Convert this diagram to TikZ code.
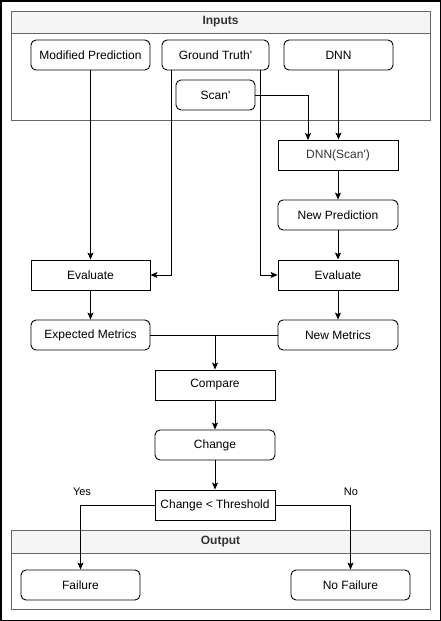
\documentclass[tikz,border=0pt]{standalone}
\usepackage{fontspec}
\setmainfont{Liberation Sans}
\usetikzlibrary{arrows.meta}
\usetikzlibrary{calc}
\definecolor{framegrey}{rgb}{0.4, 0.4, 0.4}
\definecolor{headgrey}{rgb}{0.96, 0.96, 0.96}
\definecolor{headtext}{rgb}{0.2, 0.2, 0.2}

\begin{document}
\begin{tikzpicture}[x=1pt, y=-1pt,
	font=\fontsize{12}{14}\selectfont,
	box/.style={draw, line width=0.9pt, inner sep=0pt, minimum height=30pt},
	roundbox/.style={box, rounded corners=5pt},
	group/.style={draw=framegrey, line width=0.9pt, inner sep=0pt, minimum width=419pt},
	grouphead/.style={group, fill=headgrey, text=headtext, font=\fontsize{12}{14}\selectfont\bfseries},
	flow/.style={line width=0.9pt, -{Stealth[length=7pt, width=6pt, inset=1.5pt]}},
	branch/.style={font=\fontsize{11}{13}\selectfont}]
	\useasboundingbox (0,0) rectangle (441,621);
	\draw[line width=1.5pt] (0.75,0.75) rectangle (440.25,620.25);

	% containers
	\node[group, minimum height=109pt] (inputs) at (220.5,65.5) {};
	\node[grouphead, minimum height=22pt] (inputshead) at (220.5,22) {Inputs};
	\node[group, minimum height=79pt] (output) at (220.5,569.5) {};
	\node[grouphead, minimum height=23pt] (outputhead) at (220.5,541.5) {Output};

	% inputs
	\node[roundbox, minimum width=119pt] (modpred) at (90.5,55) {Modified Prediction};
	\node[roundbox, minimum width=107pt] (gt) at (215.5,55) {Ground Truth\textquotesingle};
	\node[roundbox, minimum width=109pt] (dnn) at (338.5,55) {DNN};
	\node[roundbox, minimum width=79pt] (scan) at (215.5,95) {Scan\textquotesingle};

	% right branch
	\node[box, minimum width=120pt, text=headtext] (dnnscan) at (338,155) {DNN(Scan\textquotesingle)};
	\node[roundbox, minimum width=120pt] (newpred) at (338,215) {New Prediction};
	\node[box, minimum width=120pt] (evalR) at (338,275) {Evaluate};
	\node[roundbox, minimum width=120pt] (newmet) at (338,335) {New Metrics};

	% left branch
	\node[box, minimum width=119pt] (evalL) at (90.5,275) {Evaluate};
	\node[roundbox, minimum width=119pt] (expmet) at (90.5,335) {Expected Metrics};

	% middle
	\node[box, minimum width=120pt] (compare) at (215,385) {Compare};
	\node[roundbox, minimum width=120pt] (change) at (215,445) {Change};
	\node[box, minimum width=120pt] (thresh) at (215,505) {Change < Threshold};

	% outputs
	\node[roundbox, minimum width=119pt] (failure) at (80.5,585) {Failure};
	\node[roundbox, minimum width=119pt] (nofail) at (350.5,585) {No Failure};

	\node[branch] (yes) at (82,492) {Yes};
	\node[branch] (no) at (351,492) {No};

	% ground truth taps and scan input
	\coordinate (gtL) at (171,70);
	\coordinate (gtR) at (260,70);
	\coordinate (scanin) at (308,140);

	\draw[flow] (modpred.south) -- (evalL.north);
	\draw[flow] (gtL) |- (evalL.east);
	\draw[flow] (gtR) |- (evalR.west);
	\draw[flow] (scan.east) -| (scanin);
	\draw[flow] (dnn.south) -- (dnn.south |- dnnscan.north);
	\draw[flow] (dnnscan.south) -- (newpred.north);
	\draw[flow] (newpred.south) -- (evalR.north);
	\draw[flow] (evalL.south) -- (expmet.north);
	\draw[flow] (evalR.south) -- (newmet.north);

	% {metrics -> compare}
	\draw[line width=0.9pt] (expmet.east) -- (newmet.west);
	\draw[flow] (expmet.east -| compare.north) -- (compare.north);
	\draw[flow] (compare.south) -- (change.north);
	\draw[flow] (change.south) -- (thresh.north);

	% {threshold -> output}
	\draw[flow] (thresh.west) -| (failure.north);
	\draw[flow] (thresh.east) -| (nofail.north);
\end{tikzpicture}
\end{document}
